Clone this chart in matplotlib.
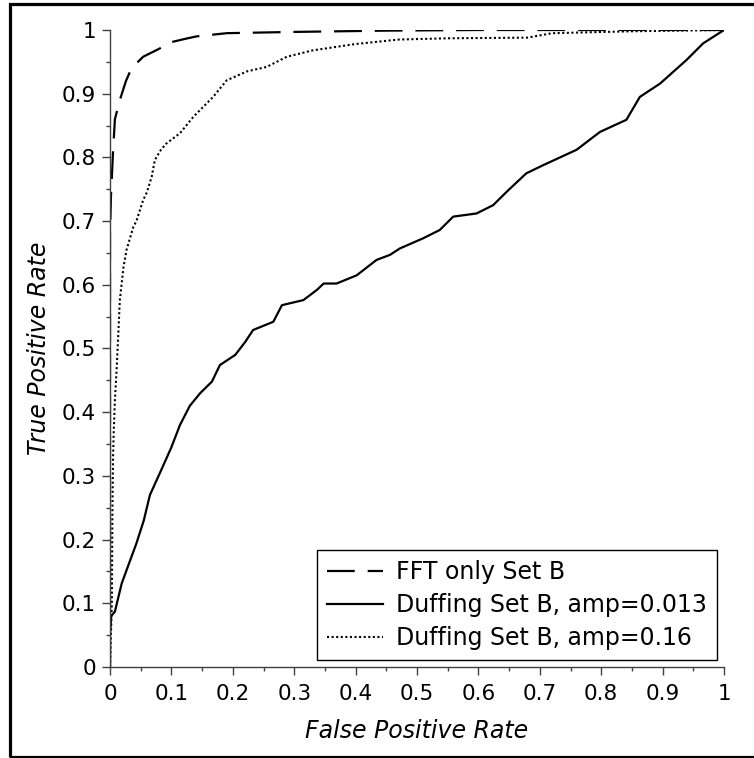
import numpy as np
import matplotlib
matplotlib.use("Agg")
import matplotlib.pyplot as plt
from matplotlib.patches import Rectangle
from matplotlib.ticker import MultipleLocator

plt.rcParams["font.family"] = ["DejaVu Sans"]

# ROC curves
fft_fpr = [0, 0, 0.0016, 0.005, 0.008, 0.016, 0.026, 0.035, 0.054, 0.079, 0.1,
           0.122, 0.141, 0.19, 0.3, 0.45, 0.6, 0.8, 1.0]
fft_tpr = [0, 0.68, 0.74, 0.81, 0.86, 0.89, 0.92, 0.94, 0.958, 0.97, 0.981,
           0.986, 0.99, 0.995, 0.997, 0.999, 1.0, 1.0, 1.0]

d013_fpr = [0, 0, 0.002, 0.008, 0.019, 0.03, 0.043, 0.055, 0.065, 0.081, 0.1,
            0.114, 0.13, 0.147, 0.166, 0.179, 0.204, 0.22, 0.233, 0.266, 0.28,
            0.315, 0.337, 0.348, 0.369, 0.402, 0.434, 0.456, 0.472, 0.51, 0.537,
            0.559, 0.597, 0.624, 0.646, 0.678, 0.706, 0.76, 0.798, 0.841, 0.863,
            0.896, 0.939, 0.966, 1.0]
d013_tpr = [0, 0.05, 0.08, 0.087, 0.131, 0.16, 0.194, 0.23, 0.27, 0.304, 0.345,
            0.38, 0.41, 0.43, 0.448, 0.474, 0.49, 0.51, 0.529, 0.542, 0.568,
            0.576, 0.592, 0.602, 0.602, 0.615, 0.639, 0.647, 0.657, 0.673, 0.686,
            0.707, 0.712, 0.725, 0.746, 0.775, 0.788, 0.812, 0.84, 0.859, 0.895,
            0.916, 0.953, 0.979, 1.0]

d16_fpr = [0, 0.003, 0.004, 0.005, 0.006, 0.008, 0.011, 0.0136, 0.016, 0.022,
           0.027, 0.038, 0.043, 0.054, 0.06, 0.068, 0.073, 0.083, 0.092, 0.114,
           0.136, 0.168, 0.19, 0.223, 0.255, 0.288, 0.33, 0.4, 0.47, 0.55, 0.68,
           0.72, 0.85, 1.0]
d16_tpr = [0, 0.1, 0.25, 0.33, 0.367, 0.419, 0.471, 0.524, 0.576, 0.628, 0.655,
           0.691, 0.70, 0.733, 0.745, 0.77, 0.796, 0.812, 0.822, 0.838, 0.864,
           0.895, 0.921, 0.935, 0.942, 0.958, 0.968, 0.978, 0.985, 0.987, 0.988,
           0.995, 0.998, 1.0]

W, H = 754, 758
fig = plt.figure(figsize=(W / 100, H / 100), dpi=100)
ax = fig.add_axes([110 / W, 1 - 667 / H, 614 / W, 637 / H])

ax.plot(fft_fpr, fft_tpr, color="black", lw=1.6, ls=(0, (12.5, 5.8)),
        label="FFT only Set B")
ax.plot(d013_fpr, d013_tpr, color="black", lw=1.6, ls="-",
        label="Duffing Set B, amp=0.013")
ax.plot(d16_fpr, d16_tpr, color="black", lw=1.5, ls=(0, (1, 1.2)),
        label="Duffing Set B, amp=0.16")

ax.set_xlim(0, 1)
ax.set_ylim(0, 1)
ax.xaxis.set_major_locator(MultipleLocator(0.1))
ax.yaxis.set_major_locator(MultipleLocator(0.1))
ax.xaxis.set_minor_locator(MultipleLocator(0.05))
ax.yaxis.set_minor_locator(MultipleLocator(0.05))
ax.xaxis.set_major_formatter(lambda v, p: f"{v:g}")
ax.yaxis.set_major_formatter(lambda v, p: f"{v:g}")
for s in ("top", "right"):
    ax.spines[s].set_visible(False)
for s in ("left", "bottom"):
    ax.spines[s].set_color("0.25")
    ax.spines[s].set_linewidth(1.0)
ax.tick_params(which="major", direction="out", length=6, width=1, color="0.25",
               labelsize=15.5)
ax.tick_params(axis="x", which="major", pad=6)
ax.tick_params(axis="y", which="major", pad=4)
ax.tick_params(which="minor", direction="out", length=3, width=1, color="0.25")

ax.set_xlabel("False Positive Rate", fontsize=17, style="italic", labelpad=11)
ax.set_ylabel("True Positive Rate", fontsize=17, style="italic", labelpad=8)

leg = ax.legend(loc="lower right", bbox_to_anchor=(0.9886, 0.011),
                borderaxespad=0, fontsize=17, frameon=True, fancybox=False,
                framealpha=1, edgecolor="black", handlelength=2.4,
                handletextpad=0.55, labelspacing=0.38, borderpad=0.42)
leg.get_frame().set_linewidth(1.0)

# outer frame around the whole picture
fig.add_artist(Rectangle((9.5 / W, 1 / H), 1.1, 1 - 4.8 / H,
                         transform=fig.transFigure, fill=False,
                         edgecolor="black", lw=2.3, clip_on=False))

fig.savefig("out.png", dpi=100)
